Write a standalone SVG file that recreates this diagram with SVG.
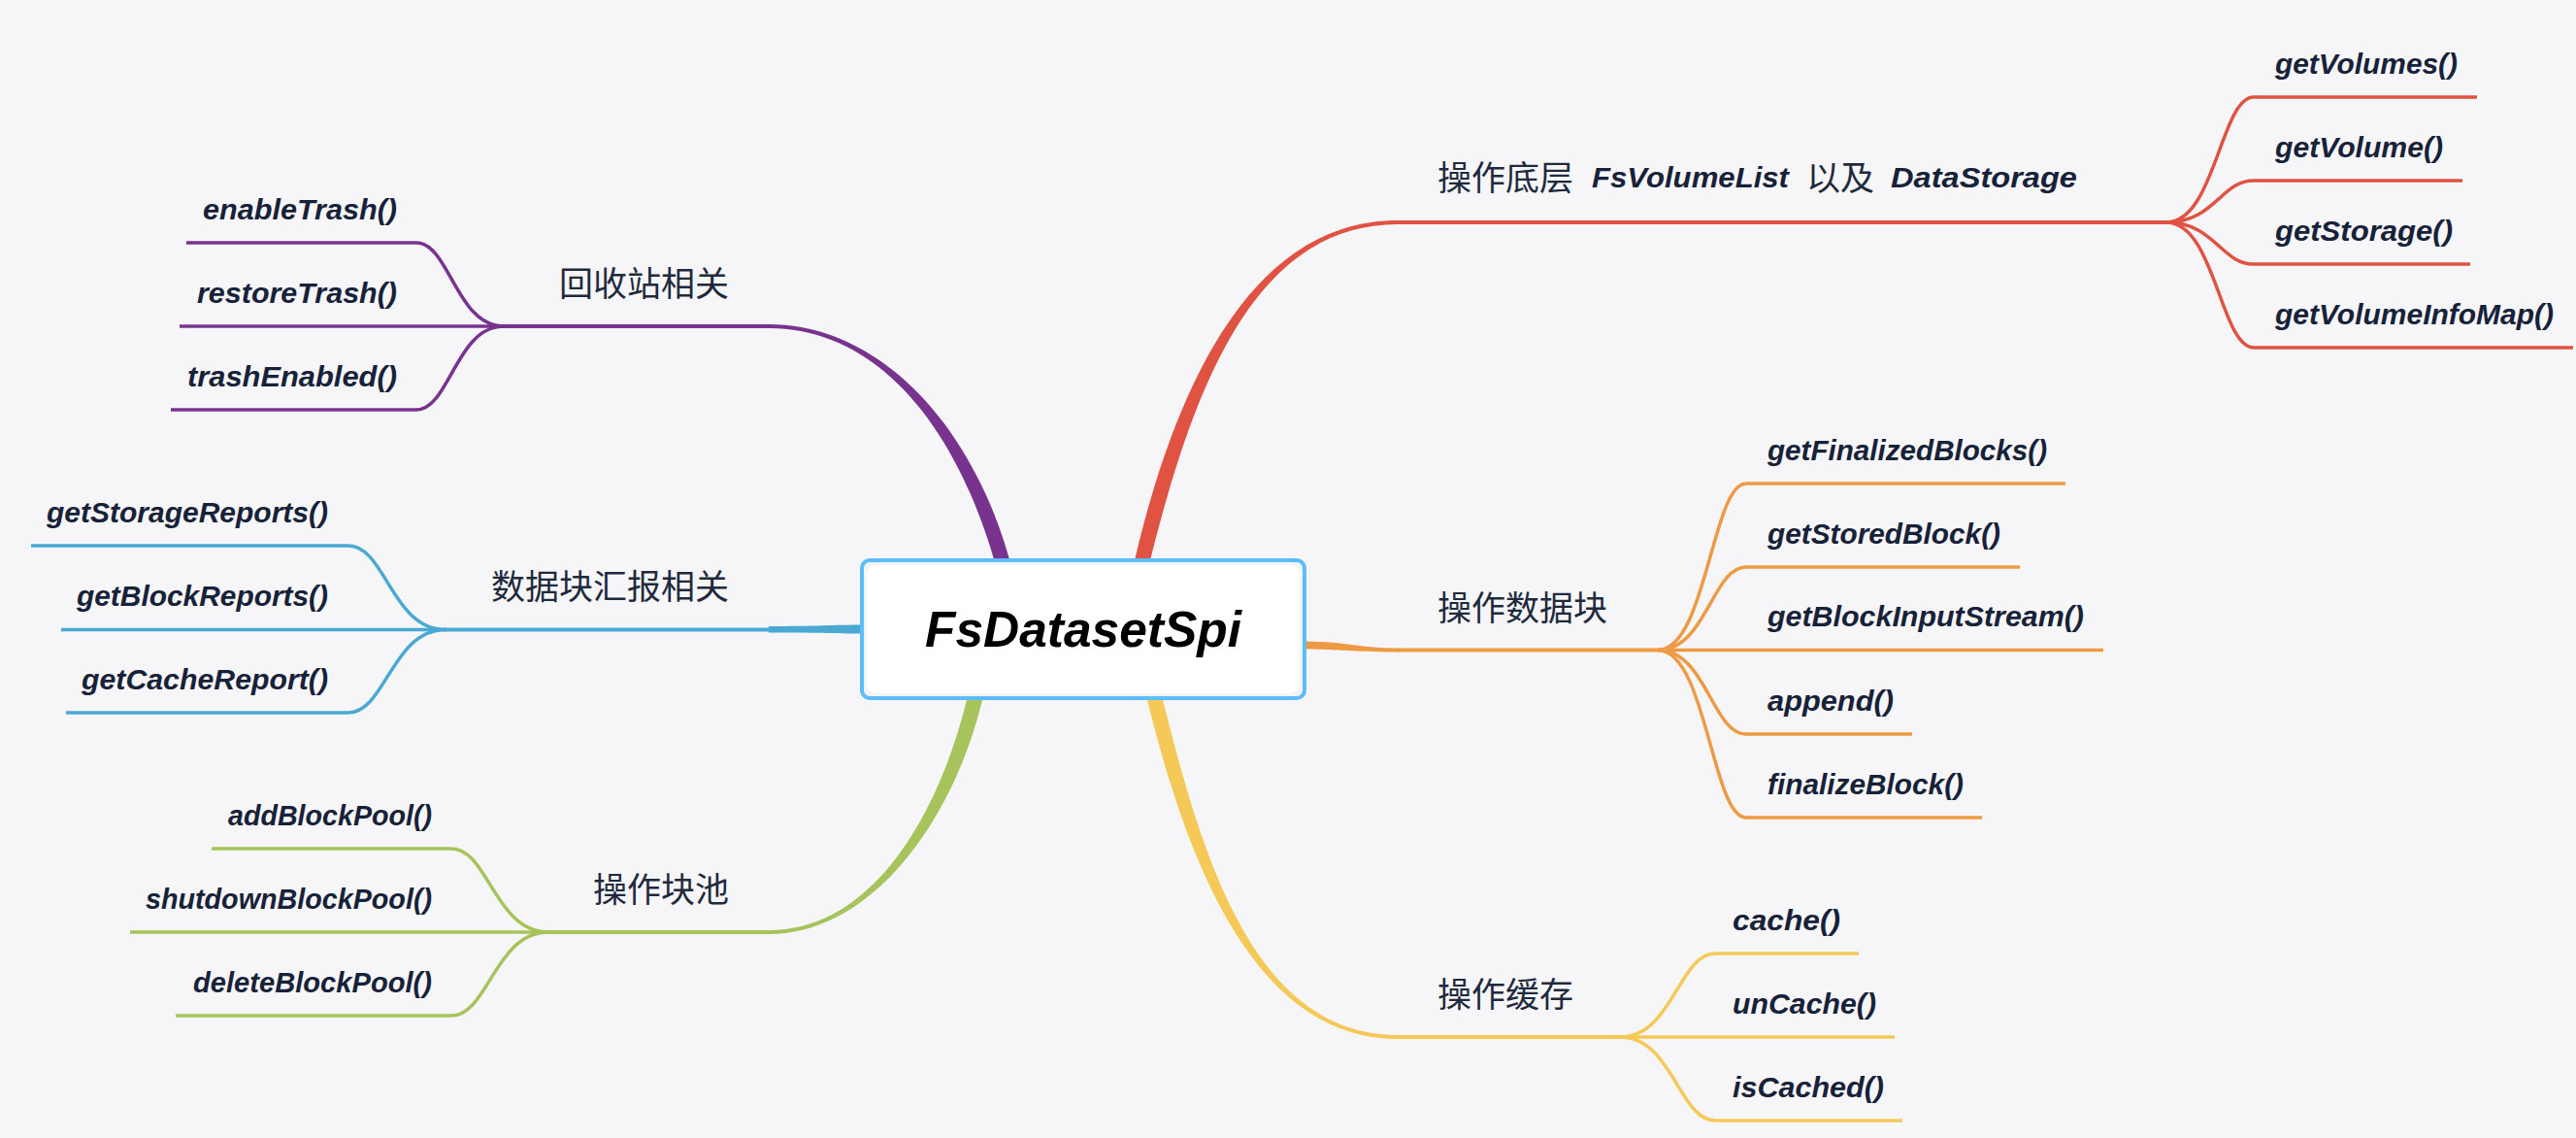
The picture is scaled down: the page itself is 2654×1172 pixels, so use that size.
<svg xmlns="http://www.w3.org/2000/svg" width="2654" height="1172" viewBox="0 0 2654 1172">
<style>
.leaf{font-family:"Liberation Sans",Arial,sans-serif;font-weight:bold;font-style:italic;font-size:30px;fill:#172238}
.lbl{font-family:"Noto Sans CJK SC","Noto Sans",sans-serif;font-size:35px;fill:#1f2a3c}
.end{text-anchor:end}
.ln{fill:none;stroke-width:3.5;stroke-linecap:butt}
.main{fill:none;stroke-width:4}
.red{stroke:#e05343}.redf{fill:#e05343}
.org{stroke:#ee9a45}.orgf{fill:#ee9a45}
.yel{stroke:#f5c957}.yelf{fill:#f5c957}
.pur{stroke:#78338e}.purf{fill:#78338e}
.blu{stroke:#4aa9d3}.bluf{fill:#4aa9d3}
.grn{stroke:#a7c35b}.grnf{fill:#a7c35b}
</style>
<rect width="2654" height="1172" fill="#f6f6f9"/>
<g id="connectors">
  <!-- trunks -->
  <path class="redf" d="M1169,577 C1211,398 1289,227 1440,227 L1440,231 C1291,231 1229,402 1185,577 Z"/>
  <path class="purf" d="M1040,576 C998,428 900,334 792,334 L792,338 C900,338 982,432 1024,576 Z"/>
  <path class="yelf" d="M1198,721 C1238,878 1290,1066 1440,1066 L1440,1070 C1290,1070 1222,882 1182,721 Z"/>
  <path class="grnf" d="M1012,721 C983,842 900,962 792,962 L792,958 C900,958 967,838 996,721 Z"/>
  <path class="orgf" d="M1344,660.5 C1390,661 1400,667.5 1441,667.5 L1441,671.5 C1400,671.5 1390,669 1344,668.5 Z"/>
  <path class="bluf" d="M792,645 C840,645 860,643.5 888,643.5 L888,652.5 C860,652.5 840,651.5 792,651.5 Z"/>
  <!-- main horizontals -->
  <path class="main red" d="M1438,229 H2234"/>
  <path class="main org" d="M1439,669.5 H1710"/>
  <path class="main yel" d="M1438,1068 H1671"/>
  <path class="main pur" d="M794,336 H517"/>
  <path class="main blu" d="M794,648.5 H457"/>
  <path class="main grn" d="M794,960 H563"/>
  <!-- red leaves -->
  <path class="ln red" d="M2232,229 C2282,229 2288,100 2322,100 H2552"/>
  <path class="ln red" d="M2232,229 C2282,229 2288,186 2322,186 H2537"/>
  <path class="ln red" d="M2232,229 C2282,229 2288,272 2322,272 H2545"/>
  <path class="ln red" d="M2232,229 C2282,229 2288,358 2322,358 H2651"/>
  <!-- orange leaves -->
  <path class="ln org" d="M1708,669.5 C1758,669.5 1764,498 1799,498 H2128"/>
  <path class="ln org" d="M1708,669.5 C1758,669.5 1764,584 1799,584 H2081"/>
  <path class="ln org" d="M1708,669.5 H2167"/>
  <path class="ln org" d="M1708,669.5 C1758,669.5 1764,756 1799,756 H1970"/>
  <path class="ln org" d="M1708,669.5 C1758,669.5 1764,842 1799,842 H2042"/>
  <!-- yellow leaves -->
  <path class="ln yel" d="M1669,1068 C1723,1068 1730,982 1767,982 H1915"/>
  <path class="ln yel" d="M1669,1068 H1952"/>
  <path class="ln yel" d="M1669,1068 C1723,1068 1730,1154 1767,1154 H1960"/>
  <!-- purple leaves -->
  <path class="ln pur" d="M519,336 C470,336 463,250 429,250 H192"/>
  <path class="ln pur" d="M519,336 H185"/>
  <path class="ln pur" d="M519,336 C470,336 463,422 429,422 H176"/>
  <!-- blue leaves -->
  <path class="ln blu" d="M459,648.5 C404,648.5 397,562 359,562 H32"/>
  <path class="ln blu" d="M459,648.5 H63"/>
  <path class="ln blu" d="M459,648.5 C404,648.5 397,734 359,734 H68"/>
  <!-- green leaves -->
  <path class="ln grn" d="M565,960 C510,960 503,874 465,874 H218"/>
  <path class="ln grn" d="M565,960 H134"/>
  <path class="ln grn" d="M565,960 C510,960 503,1046 465,1046 H181"/>
</g>
<g id="root">
  <rect x="888" y="577" width="456" height="142" rx="8" fill="#f3f4f7" stroke="#5dbdfa" stroke-width="4"/>
  <rect x="893" y="582" width="446" height="132" rx="10" fill="#ffffff"/>
  <text x="1116" y="666" text-anchor="middle" textLength="326" lengthAdjust="spacingAndGlyphs" style="font-family:'Liberation Sans',Arial,sans-serif;font-weight:bold;font-style:italic;font-size:52px;fill:#000">FsDatasetSpi</text>
</g>
<g id="topic-volume">
  <text class="lbl"><tspan x="1481" y="196">操作底层</tspan><tspan class="leaf" x="1640" y="193" textLength="203" lengthAdjust="spacingAndGlyphs">FsVolumeList</tspan><tspan x="1861" y="196">以及</tspan><tspan class="leaf" x="1948" y="193" textLength="192" lengthAdjust="spacingAndGlyphs">DataStorage</tspan></text>
</g>
<g id="leaf-getVolumes"><text class="leaf" x="2344" y="76" textLength="188" lengthAdjust="spacingAndGlyphs">getVolumes()</text></g>
<g id="leaf-getVolume"><text class="leaf" x="2344" y="162" textLength="173" lengthAdjust="spacingAndGlyphs">getVolume()</text></g>
<g id="leaf-getStorage"><text class="leaf" x="2344" y="248" textLength="183" lengthAdjust="spacingAndGlyphs">getStorage()</text></g>
<g id="leaf-getVolumeInfoMap"><text class="leaf" x="2344" y="334" textLength="287" lengthAdjust="spacingAndGlyphs">getVolumeInfoMap()</text></g>
<g id="topic-block"><text class="lbl" x="1481" y="639">操作数据块</text></g>
<g id="leaf-getFinalizedBlocks"><text class="leaf" x="1821" y="474" textLength="288" lengthAdjust="spacingAndGlyphs">getFinalizedBlocks()</text></g>
<g id="leaf-getStoredBlock"><text class="leaf" x="1821" y="560" textLength="240" lengthAdjust="spacingAndGlyphs">getStoredBlock()</text></g>
<g id="leaf-getBlockInputStream"><text class="leaf" x="1821" y="645" textLength="326" lengthAdjust="spacingAndGlyphs">getBlockInputStream()</text></g>
<g id="leaf-append"><text class="leaf" x="1821" y="732" textLength="130" lengthAdjust="spacingAndGlyphs">append()</text></g>
<g id="leaf-finalizeBlock"><text class="leaf" x="1821" y="818" textLength="202" lengthAdjust="spacingAndGlyphs">finalizeBlock()</text></g>
<g id="topic-cache"><text class="lbl" x="1481" y="1037">操作缓存</text></g>
<g id="leaf-cache"><text class="leaf" x="1785" y="958" textLength="111" lengthAdjust="spacingAndGlyphs">cache()</text></g>
<g id="leaf-unCache"><text class="leaf" x="1785" y="1044" textLength="148" lengthAdjust="spacingAndGlyphs">unCache()</text></g>
<g id="leaf-isCached"><text class="leaf" x="1785" y="1130" textLength="156" lengthAdjust="spacingAndGlyphs">isCached()</text></g>
<g id="topic-trash"><text class="lbl end" x="751" y="305">回收站相关</text></g>
<g id="leaf-enableTrash"><text class="leaf end" x="409" y="226" textLength="200" lengthAdjust="spacingAndGlyphs">enableTrash()</text></g>
<g id="leaf-restoreTrash"><text class="leaf end" x="409" y="312" textLength="206" lengthAdjust="spacingAndGlyphs">restoreTrash()</text></g>
<g id="leaf-trashEnabled"><text class="leaf end" x="409" y="398" textLength="216" lengthAdjust="spacingAndGlyphs">trashEnabled()</text></g>
<g id="topic-report"><text class="lbl end" x="751" y="617">数据块汇报相关</text></g>
<g id="leaf-getStorageReports"><text class="leaf end" x="338" y="538" textLength="290" lengthAdjust="spacingAndGlyphs">getStorageReports()</text></g>
<g id="leaf-getBlockReports"><text class="leaf end" x="338" y="624" textLength="259" lengthAdjust="spacingAndGlyphs">getBlockReports()</text></g>
<g id="leaf-getCacheReport"><text class="leaf end" x="338" y="710" textLength="254" lengthAdjust="spacingAndGlyphs">getCacheReport()</text></g>
<g id="topic-pool"><text class="lbl end" x="751" y="929">操作块池</text></g>
<g id="leaf-addBlockPool"><text class="leaf end" x="445" y="850" textLength="210" lengthAdjust="spacingAndGlyphs">addBlockPool()</text></g>
<g id="leaf-shutdownBlockPool"><text class="leaf end" x="445" y="936" textLength="295" lengthAdjust="spacingAndGlyphs">shutdownBlockPool()</text></g>
<g id="leaf-deleteBlockPool"><text class="leaf end" x="445" y="1022" textLength="246" lengthAdjust="spacingAndGlyphs">deleteBlockPool()</text></g>
</svg>
